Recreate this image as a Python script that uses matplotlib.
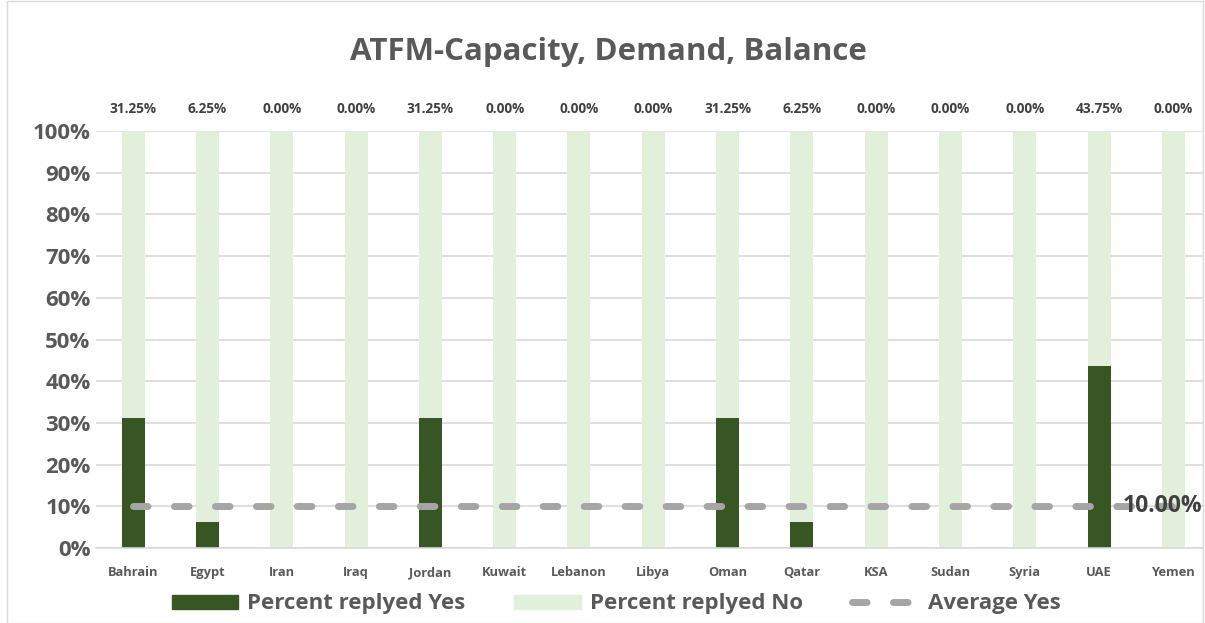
import matplotlib.pyplot as plt
from matplotlib.patches import Rectangle
from matplotlib.lines import Line2D
from matplotlib.patches import Patch

countries = ['Bahrain', 'Egypt', 'Iran', 'Iraq', 'Jordan', 'Kuwait', 'Lebanon', 'Libya',
             'Oman', 'Qatar', 'KSA', 'Sudan', 'Syria', 'UAE', 'Yemen']
yes_pct = [31.25, 6.25, 0.0, 0.0, 31.25, 0.0, 0.0, 0.0, 31.25, 6.25, 0.0, 0.0, 0.0, 43.75, 0.0]
no_pct = [68.75, 93.75, 100.0, 100.0, 68.75, 100.0, 100.0, 100.0, 68.75, 93.75, 100.0, 100.0, 100.0, 56.25, 100.0]
avg_yes = [10.0] * len(countries)

dark = '#375623'
light = '#E2EFDA'
grey_txt = '#595959'
FONT = ['Open Sans', 'DejaVu Sans']
plt.rcParams['font.family'] = FONT

W, H = 1205, 623
fig = plt.figure(figsize=(W / 100, H / 100), dpi=100)
ax = fig.add_axes([96 / W, 75 / H, (1203 - 96) / W, 417 / H])

x = list(range(len(countries)))
ax.bar(x, yes_pct, width=0.31, color=dark, zorder=2)
ax.bar(x, no_pct, width=0.31, bottom=yes_pct, color=light, zorder=2)
ax.plot(x, avg_yes, color='#A5A5A5', lw=5, dashes=(2.1, 3.8),
        dash_capstyle='round', zorder=3)

for xi, v in zip(x, yes_pct):
    ax.text(xi, 105.2, f'{v:.2f}%', ha='center', va='center', fontsize=9.8,
            fontweight='bold', color='#404040')
ax.text(x[-1] - 0.15, avg_yes[-1], f'{avg_yes[-1]:.2f}%', ha='center', va='center',
        fontsize=16.5, fontweight='bold', color='#404040', zorder=4)

ax.set_xlim(-0.5, -0.5 + (1203 - 96) / 74.3)
ax.set_ylim(0, 100)
ax.set_yticks(range(0, 101, 10))
ax.set_yticklabels([f'{t}%' for t in range(0, 101, 10)], fontsize=16,
                   fontweight='bold', color=grey_txt)
ax.set_xticks(x)
ax.set_xticklabels(countries, fontsize=9.3, fontweight='bold', color=grey_txt)
ax.tick_params(length=0, pad=13)
ax.tick_params(axis='y', pad=4)
ax.grid(axis='y', color='#D9D9D9', lw=1.2, zorder=0)
for s in ['top', 'right', 'left']:
    ax.spines[s].set_visible(False)
ax.spines['bottom'].set_color('#D9D9D9')
ax.spines['bottom'].set_linewidth(1.2)
ax.spines['bottom'].set_zorder(3)

fig.text(608 / W, 1 - 52 / H, 'ATFM-Capacity, Demand, Balance', ha='center', va='center',
         fontsize=22.5, fontweight='bold', color=grey_txt)

handles = [Patch(color=dark), Patch(color=light),
           Line2D([], [], color='#A5A5A5', lw=5, dashes=(2.1, 3.8), dash_capstyle='round')]
labels = ['Percent replyed Yes', 'Percent replyed No', 'Average Yes']
fig.legend(handles, labels, loc='center', bbox_to_anchor=(616 / W, 1 - 604 / H), ncol=3,
           frameon=False, prop={'family': FONT, 'weight': 'bold', 'size': 16},
           labelcolor=grey_txt, handlelength=3.0, handleheight=0.6, columnspacing=2.2,
           handletextpad=0.4)

fig.patches.append(Rectangle((7 / W, 0), 1 - 9 / W, 1 - 1 / H, transform=fig.transFigure,
                             fill=False, edgecolor='#D9D9D9', lw=1))

fig.savefig('out.png', dpi=100)
